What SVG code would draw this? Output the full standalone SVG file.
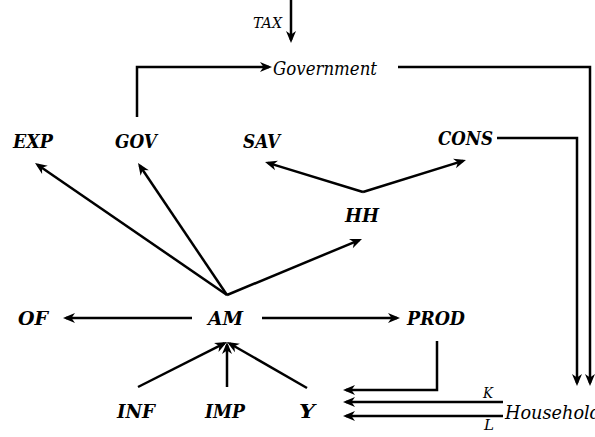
<svg xmlns="http://www.w3.org/2000/svg" width="595" height="437" viewBox="0 0 595 437">
<style>
text{font-family:'DejaVu Serif',serif;font-style:italic;font-stretch:condensed;fill:#000}
.n{font-weight:bold;font-size:18px}
.c{fill:none;stroke:#000;stroke-width:2.5;marker-end:url(#ah)}
</style>
<defs>
<marker id="ah" markerUnits="userSpaceOnUse" viewBox="-14 -6 16 12" refX="-3" refY="0" markerWidth="16" markerHeight="12" orient="auto">
<path d="M0,0 L-12,-5 L-8.5,0 L-12,5 Z" fill="#000"/>
</marker>
</defs>
<rect width="595" height="437" fill="#fff"/>
<g id="connectors">
<path class="c" d="M291,0 V40"/>
<path class="c" d="M137,117 V67 H269"/>
<path class="c" d="M398,67 H590 V383"/>
<path class="c" d="M497,138 H577 V383"/>
<path class="c" d="M227,295 L37.5,164.7"/>
<path class="c" d="M227,295 L139.7,165.5"/>
<path class="c" d="M227,295 L359.2,240.1"/>
<path class="c" d="M363,192 L267.9,162.9"/>
<path class="c" d="M363,192 L463.1,160.9"/>
<path class="c" d="M192,318 H66"/>
<path class="c" d="M262,318 H397"/>
<path class="c" d="M138,387 L224.3,343.4"/>
<path class="c" d="M227,387 V345"/>
<path class="c" d="M307,388 L229.6,343.5"/>
<path class="c" d="M437,341 V390 H346"/>
<path class="c" d="M503,402 H346"/>
<path class="c" d="M503,416 H346"/>
</g>
<g id="TAX"><text x="253" y="28" font-size="15" textLength="29" lengthAdjust="spacingAndGlyphs">TAX</text></g>
<g id="Government"><text x="273" y="75" font-size="18.5" textLength="104" lengthAdjust="spacingAndGlyphs">Government</text></g>
<g id="EXP"><text class="n" x="13" y="148" textLength="40" lengthAdjust="spacingAndGlyphs">EXP</text></g>
<g id="GOV"><text class="n" x="115" y="148" textLength="42" lengthAdjust="spacingAndGlyphs">GOV</text></g>
<g id="SAV"><text class="n" x="243" y="148" textLength="37" lengthAdjust="spacingAndGlyphs">SAV</text></g>
<g id="CONS"><text class="n" x="438" y="145" textLength="55" lengthAdjust="spacingAndGlyphs">CONS</text></g>
<g id="HH"><text class="n" x="345" y="222" textLength="34" lengthAdjust="spacingAndGlyphs">HH</text></g>
<g id="OF"><text class="n" x="18" y="325" textLength="30" lengthAdjust="spacingAndGlyphs">OF</text></g>
<g id="AM"><text class="n" x="208" y="325" textLength="35" lengthAdjust="spacingAndGlyphs">AM</text></g>
<g id="PROD"><text class="n" x="407" y="325" textLength="58" lengthAdjust="spacingAndGlyphs">PROD</text></g>
<g id="INF"><text class="n" x="117" y="418" textLength="38" lengthAdjust="spacingAndGlyphs">INF</text></g>
<g id="IMP"><text class="n" x="205" y="418" textLength="40" lengthAdjust="spacingAndGlyphs">IMP</text></g>
<g id="Y"><text class="n" x="299" y="418" textLength="16" lengthAdjust="spacingAndGlyphs">Y</text></g>
<g id="K"><text x="483" y="398" font-size="15" textLength="10" lengthAdjust="spacingAndGlyphs">K</text></g>
<g id="L"><text x="484" y="430" font-size="15" textLength="10" lengthAdjust="spacingAndGlyphs">L</text></g>
<g id="Household"><text x="505" y="419" font-size="18.5" textLength="96" lengthAdjust="spacingAndGlyphs">Household</text></g>
</svg>
